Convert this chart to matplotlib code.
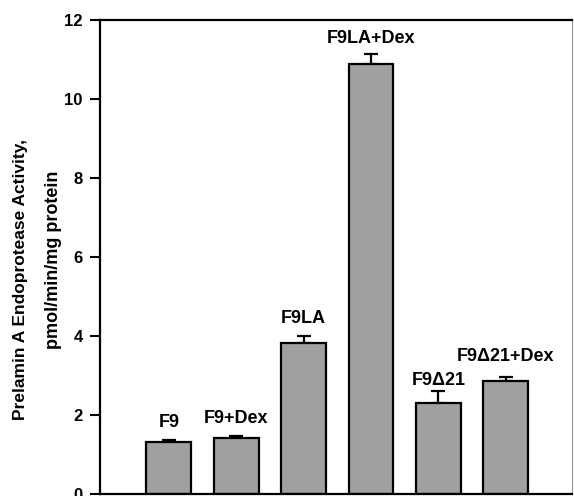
import numpy as np
import matplotlib.pyplot as plt

# Data
groups = ['F9', 'F9+Dex', 'F9LA', 'F9LA+Dex', 'F9\u039421', 'F9\u039421+Dex']
activity = np.array([1.31, 1.43, 3.83, 10.89, 2.31, 2.86])
sem = np.array([0.05, 0.04, 0.18, 0.25, 0.30, 0.10])

# label gap above error cap (points)
label_gap = [7, 6.5, 6.5, 5, 1.5, 8.5]

plt.rcParams['font.family'] = ['Liberation Sans', 'DejaVu Sans']
plt.rcParams['font.weight'] = 'bold'

fig = plt.figure(figsize=(5.74, 4.96), dpi=100)
ax = fig.add_axes([0.1742, 0.004, 0.8223, 0.9556])

x = np.arange(len(groups))
ax.bar(x, activity, width=0.665, color='#a0a0a0', edgecolor='black', linewidth=1.6, zorder=2)
ax.errorbar(x, activity, yerr=[np.zeros_like(sem), sem], fmt='none', ecolor='black',
            elinewidth=1.6, capsize=5, capthick=1.6, zorder=1)

for xi, top, gap, name in zip(x, activity + sem, label_gap, groups):
    ax.annotate(name, (xi, top), xytext=(0, gap), textcoords='offset points',
                ha='center', va='bottom', fontsize=13, fontweight='bold')

ax.set_xlim(-1.02, 5.98)
ax.set_ylim(0, 12)
ax.set_yticks([0, 2, 4, 6, 8, 10, 12])
ax.set_xticks([])
ax.tick_params(axis='y', direction='out', length=7.5, width=1.5, labelsize=12, pad=5)
for lab in ax.get_yticklabels():
    lab.set_fontweight('bold')

ax.spines['left'].set_linewidth(1.6)
ax.spines['bottom'].set_linewidth(1.6)
ax.spines['top'].set_linewidth(1.6)
ax.spines['right'].set_linewidth(0.8)
ax.spines['right'].set_color('#999999')

# y-axis title, two lines
fig.text(0.035, 0.4375, 'Prelamin A Endoprotease Activity,', rotation=90,
         ha='center', va='center', fontsize=12.5, fontweight='bold')
fig.text(0.094, 0.476, 'pmol/min/mg protein', rotation=90,
         ha='center', va='center', fontsize=13, fontweight='bold')

fig.savefig('out.png', dpi=100)
